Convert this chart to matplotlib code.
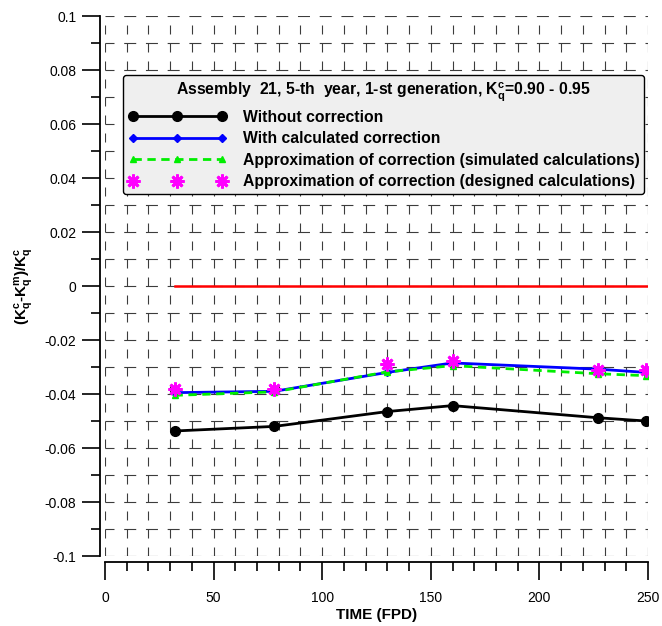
import numpy as np
import matplotlib
matplotlib.use("Agg")
import matplotlib.pyplot as plt
from matplotlib.ticker import MultipleLocator

plt.rcParams['font.family'] = ['Liberation Sans', 'DejaVu Sans']
plt.rcParams['mathtext.fontset'] = 'custom'
plt.rcParams['mathtext.rm'] = 'Liberation Sans'
plt.rcParams['mathtext.bf'] = 'Liberation Sans:bold'
plt.rcParams['lines.scale_dashes'] = False

# ---- data ----
time_fpd = [32, 78, 130, 160, 227, 249]
no_corr = [-0.0537, -0.0520, -0.0465, -0.0443, -0.0488, -0.0500]
calc_corr = [-0.0395, -0.0390, -0.0320, -0.0285, -0.0308, -0.0320]
approx_sim = [-0.0405, -0.0392, -0.0318, -0.0295, -0.0325, -0.0332]
approx_des = [-0.0380, -0.0380, -0.0290, -0.0278, -0.0310, -0.0310]
zero_x = [32, 250]
zero_y = [0, 0]

legend_title = "Assembly  21, 5-th  year, 1-st generation, K$_\\mathbf{q}^\\mathbf{c}$=0.90 - 0.95"
labels = ["Without correction",
          "With calculated correction",
          "Approximation of correction (simulated calculations)",
          "Approximation of correction (designed calculations)"]

px = 0.72  # points per pixel at dpi=100

fig = plt.figure(figsize=(6.62, 6.26), dpi=100)
ax = fig.add_axes([105 / 662, 1 - 556 / 626, 543 / 662, 540 / 626])
ax.set_xlim(0, 250)
ax.set_ylim(-0.1, 0.1)

# dashed grid drawn by hand so the dash pattern can be tuned
for xv in np.arange(0, 251, 10):
    ax.axvline(xv, color="#3c3c3c", lw=0.8, ls=(0, (9 * px, 9 * px)), zorder=0)
for yv in np.arange(-0.1, 0.1001, 0.01):
    ax.axhline(yv, color="#3c3c3c", lw=0.8, ls=(3 * px, (12 * px, 9.72 * px)), zorder=0)

ax.plot(zero_x, zero_y, color="#ff0000", lw=1.8, zorder=2)
l1, = ax.plot(time_fpd, no_corr, color="black", lw=2, marker="o", ms=7, zorder=3)
l2, = ax.plot(time_fpd, calc_corr, color="#0000ff", lw=2, marker="D", ms=4, zorder=3)
l3, = ax.plot(time_fpd, approx_sim, color="#00ee00", lw=2, ls=(0, (6, 4)),
              marker="^", ms=5, zorder=4)
l4, = ax.plot(time_fpd, approx_des, color="#ff00ff", lw=0, marker=(8, 2, 0),
              ms=10, mew=2, zorder=5)

for s in ["top", "right"]:
    ax.spines[s].set_visible(False)
ax.spines["left"].set_position(("outward", 5 * px))
ax.spines["bottom"].set_position(("outward", 6 * px))
ax.spines["left"].set_linewidth(1.3)
ax.spines["bottom"].set_linewidth(1.3)

ax.xaxis.set_major_locator(MultipleLocator(50))
ax.xaxis.set_minor_locator(MultipleLocator(10))
ax.yaxis.set_major_locator(MultipleLocator(0.02))
ax.yaxis.set_minor_locator(MultipleLocator(0.01))
ax.yaxis.set_major_formatter(plt.FuncFormatter(lambda v, p: f"{v:g}" if abs(v) > 1e-9 else "0"))
ax.tick_params(which="major", direction="out", length=18 * px, width=1.2, labelsize=10, pad=4)
ax.tick_params(axis="x", which="major", pad=8)
ax.tick_params(which="minor", direction="out", length=9 * px, width=1.2)

ax.set_xlabel("TIME (FPD)", fontsize=11, fontweight="bold", labelpad=2)
ax.set_ylabel("(K$_\\mathbf{q}^\\mathbf{c}$-K$_\\mathbf{q}^\\mathbf{m}$)/K$_\\mathbf{q}^\\mathbf{c}$",
              fontsize=11, fontweight="bold", labelpad=6)

leg = ax.legend([l1, l2, l3, l4], labels, title=legend_title,
                loc="upper left", bbox_to_anchor=(123 / 662, 1 - 75 / 626),
                bbox_transform=fig.transFigure, numpoints=3, handlelength=6.3,
                handletextpad=1.0, labelspacing=0.42, borderpad=0.32,
                borderaxespad=0, fancybox=True, framealpha=1, edgecolor="black",
                facecolor="#efefef", prop={"weight": "bold", "size": 11.3})
leg.get_title().set_fontweight("bold")
leg.get_title().set_fontsize(11.3)
leg.get_frame().set_linewidth(1)
leg.set_zorder(10)

fig.savefig("out.png", dpi=100)
